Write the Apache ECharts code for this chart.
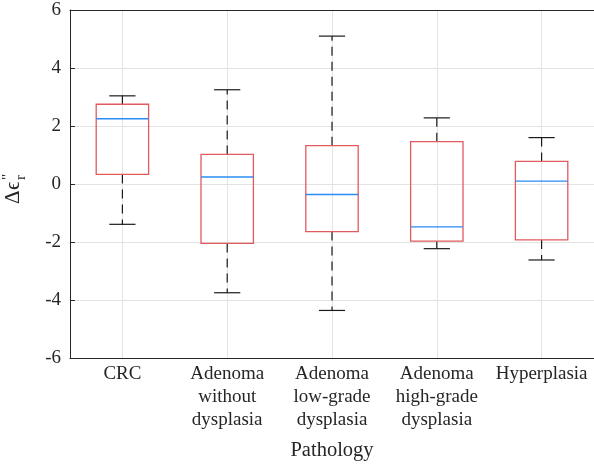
<!DOCTYPE html>
<html>
<head>
<meta charset="utf-8">
<script src="https://cdn.jsdelivr.net/npm/echarts@6/dist/echarts.min.js"></script>
<style>
  html, body { margin: 0; padding: 0; background: #fff; }
  #chart { width: 594px; height: 474px; }
</style>
</head>
<body>
<div id="chart"></div>
<script>
// Pathology groups and the box-plot statistics of Δε_r'' per group
const categories = [
  'CRC',
  'Adenoma\nwithout\ndysplasia',
  'Adenoma\nlow-grade\ndysplasia',
  'Adenoma\nhigh-grade\ndysplasia',
  'Hyperplasia'
];
const lowerWhisker = [-1.39, -3.75, -4.36, -2.23, -2.62];
const lowerQuartile = [0.33, -2.05, -1.64, -1.97, -1.93];
const medians = [2.25, 0.24, -0.36, -1.48, 0.10];
const upperQuartile = [2.75, 1.02, 1.32, 1.46, 0.78];
const upperWhisker = [3.04, 3.25, 5.10, 2.28, 1.60];
const yTicks = [-6, -4, -2, 0, 2, 4, 6];

const FONT = 'Liberation Serif';
const AXIS_COLOR = '#262626';
const GRID_COLOR = '#e3e3e3';
const BOX_COLOR = '#e05a5e';
const MEDIAN_COLOR = '#2b8cf5';

const boxData = categories.map((c, i) => [
  i, lowerWhisker[i], lowerQuartile[i], medians[i], upperQuartile[i], upperWhisker[i]
]);

function renderBox(params, api) {
  const i = api.value(0);
  const band = api.size([1, 0])[0];
  const half = band * 0.25;
  const capHalf = band * 0.125;
  const pLo = api.coord([i, api.value(1)]);
  const pQ1 = api.coord([i, api.value(2)]);
  const pMed = api.coord([i, api.value(3)]);
  const pQ3 = api.coord([i, api.value(4)]);
  const pHi = api.coord([i, api.value(5)]);
  const x = pMed[0];
  const dash = { stroke: '#1a1a1a', lineWidth: 1.2, lineDash: [9, 6] };
  const solid = { stroke: '#1a1a1a', lineWidth: 1.2 };
  return {
    type: 'group',
    children: [
      { type: 'line', shape: { x1: x, y1: pQ1[1], x2: x, y2: pLo[1] }, style: dash },
      { type: 'line', shape: { x1: x, y1: pQ3[1], x2: x, y2: pHi[1] }, style: dash },
      { type: 'line', shape: { x1: x - capHalf, y1: pLo[1], x2: x + capHalf, y2: pLo[1] }, style: solid },
      { type: 'line', shape: { x1: x - capHalf, y1: pHi[1], x2: x + capHalf, y2: pHi[1] }, style: solid },
      {
        type: 'rect',
        shape: { x: x - half, y: pQ3[1], width: 2 * half, height: pQ1[1] - pQ3[1] },
        style: { fill: 'rgba(0,0,0,0)', stroke: BOX_COLOR, lineWidth: 1.3 }
      },
      { type: 'line', shape: { x1: x - half, y1: pMed[1], x2: x + half, y2: pMed[1] },
        style: { stroke: MEDIAN_COLOR, lineWidth: 1.4 } }
    ]
  };
}

const chart = echarts.init(document.getElementById('chart'), null, { renderer: 'canvas' });

const labelText = (size) => ({ fontFamily: FONT, fontSize: size, fill: AXIS_COLOR, verticalAlign: 'bottom' });

chart.setOption({
  animation: false,
  backgroundColor: '#fff',
  textStyle: { fontFamily: FONT },
  grid: { left: 70, top: 10, width: 527, height: 348, containLabel: false },
  xAxis: [
    {
      type: 'category',
      data: categories,
      boundaryGap: true,
      position: 'bottom',
      name: 'Pathology',
      nameLocation: 'middle',
      nameGap: 82,
      nameTextStyle: { fontFamily: FONT, fontSize: 20.5, color: AXIS_COLOR },
      axisLine: { onZero: false, lineStyle: { color: AXIS_COLOR, width: 1 } },
      axisTick: { inside: true, length: 5, alignWithLabel: true, lineStyle: { color: AXIS_COLOR } },
      axisLabel: { fontFamily: FONT, fontSize: 19, color: AXIS_COLOR, lineHeight: 23, margin: 5, interval: 0 },
      splitLine: { show: true, alignWithLabel: true, lineStyle: { color: GRID_COLOR, width: 1 } }
    },
    {
      type: 'category',
      data: categories,
      boundaryGap: true,
      position: 'top',
      axisLine: { onZero: false, lineStyle: { color: AXIS_COLOR, width: 1 } },
      axisTick: { inside: true, length: 5, alignWithLabel: true, lineStyle: { color: AXIS_COLOR } },
      axisLabel: { show: false },
      splitLine: { show: false }
    }
  ],
  yAxis: {
    type: 'value',
    min: yTicks[0],
    max: yTicks[yTicks.length - 1],
    interval: 2,
    axisLine: { show: true, onZero: false, lineStyle: { color: AXIS_COLOR, width: 1 } },
    axisTick: { show: true, inside: true, length: 5, lineStyle: { color: AXIS_COLOR } },
    axisLabel: { fontFamily: FONT, fontSize: 19, color: AXIS_COLOR, margin: 9 },
    splitLine: { show: true, lineStyle: { color: GRID_COLOR, width: 1 } }
  },
  graphic: [
    {
      // y-axis title: Δϵ with subscript r and superscript ''
      type: 'group',
      x: 24,
      y: 204,
      rotation: Math.PI / 2,
      silent: true,
      children: [
        { type: 'text', x: 0, y: 0, style: Object.assign({ text: 'Δ' }, labelText(21)) },
        { type: 'text', x: 14, y: 0, style: Object.assign({ text: 'ϵ' }, labelText(21)) },
        { type: 'text', x: 24, y: 5, style: Object.assign({ text: 'r' }, labelText(15)) },
        { type: 'text', x: 24, y: -8, style: Object.assign({ text: '"' }, labelText(15)) }
      ]
    }
  ],
  series: [
    {
      type: 'custom',
      xAxisIndex: 0,
      renderItem: renderBox,
      encode: { x: 0, y: [1, 2, 3, 4, 5] },
      data: boxData,
      z: 10
    }
  ]
});
</script>
</body>
</html>
